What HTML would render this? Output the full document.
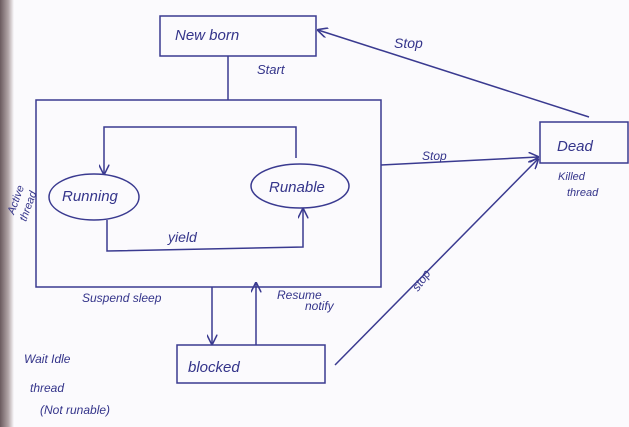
<!DOCTYPE html>
<html><head><style>
html,body{margin:0;padding:0;background:#fbfafd;}
svg{display:block;}
text{font-family:"Liberation Sans",sans-serif;fill:#34348a;font-style:italic;}
</style></head><body>
<svg width="629" height="427" viewBox="0 0 629 427" xmlns="http://www.w3.org/2000/svg">
<defs>
<linearGradient id="edge" x1="0" x2="1"><stop offset="0" stop-color="#6a5a5e"/><stop offset="0.6" stop-color="#b3a6a8"/><stop offset="1" stop-color="#fbfafd"/></linearGradient>
<marker id="a" viewBox="0 0 10 10" refX="9" refY="5" markerWidth="7" markerHeight="7" orient="auto-start-reverse"><path d="M0,0 L10,5 L0,10" fill="none" stroke="#3a3a90" stroke-width="1.5"/></marker>
</defs>
<rect x="0" y="0" width="14" height="427" fill="url(#edge)"/>
<g fill="none" stroke="#3a3a90" stroke-width="1.5">
<rect x="160" y="16" width="156" height="40"/>
<rect x="540" y="122" width="88" height="41"/>
<rect x="36" y="100" width="345" height="187"/>
<rect x="177" y="345" width="148" height="38"/>
<ellipse cx="94" cy="197" rx="45" ry="23"/>
<ellipse cx="300" cy="186" rx="49" ry="22"/>
<line x1="228" y1="56" x2="228" y2="100"/>
<polyline points="104,174 104,127 296,127 296,158" marker-start="url(#a)"/>
<polyline points="107,220 107,251 303,247 303,209" marker-end="url(#a)"/>
<line x1="381" y1="165" x2="538" y2="157" marker-end="url(#a)"/>
<line x1="589" y1="117" x2="318" y2="30" marker-end="url(#a)"/>
<line x1="335" y1="365" x2="538" y2="159" marker-end="url(#a)"/>
<line x1="212" y1="287" x2="212" y2="344" marker-end="url(#a)"/>
<line x1="256" y1="345" x2="256" y2="283" marker-end="url(#a)"/>
</g>
<text x="175" y="40" font-size="15">New born</text>
<text x="257" y="74" font-size="13">Start</text>
<text x="394" y="48" font-size="14">Stop</text>
<text x="557" y="151" font-size="15">Dead</text>
<text x="558" y="180" font-size="11">Killed</text>
<text x="567" y="196" font-size="11">thread</text>
<text x="422" y="160" font-size="12">Stop</text>
<text x="62" y="201" font-size="15">Running</text>
<text x="269" y="192" font-size="15">Runable</text>
<text x="168" y="242" font-size="14">yield</text>
<text x="82" y="302" font-size="12">Suspend sleep</text>
<text x="277" y="299" font-size="12">Resume</text>
<text x="305" y="310" font-size="12">notify</text>
<text x="188" y="372" font-size="15">blocked</text>
<text x="24" y="363" font-size="12">Wait Idle</text>
<text x="30" y="392" font-size="12">thread</text>
<text x="40" y="414" font-size="12">(Not runable)</text>
<text transform="translate(418,292) rotate(-55)" font-size="12">stop</text>
<text transform="translate(14,215) rotate(-70)" font-size="11">Active</text>
<text transform="translate(26,222) rotate(-70)" font-size="11">thread</text>
</svg>
</body></html>
